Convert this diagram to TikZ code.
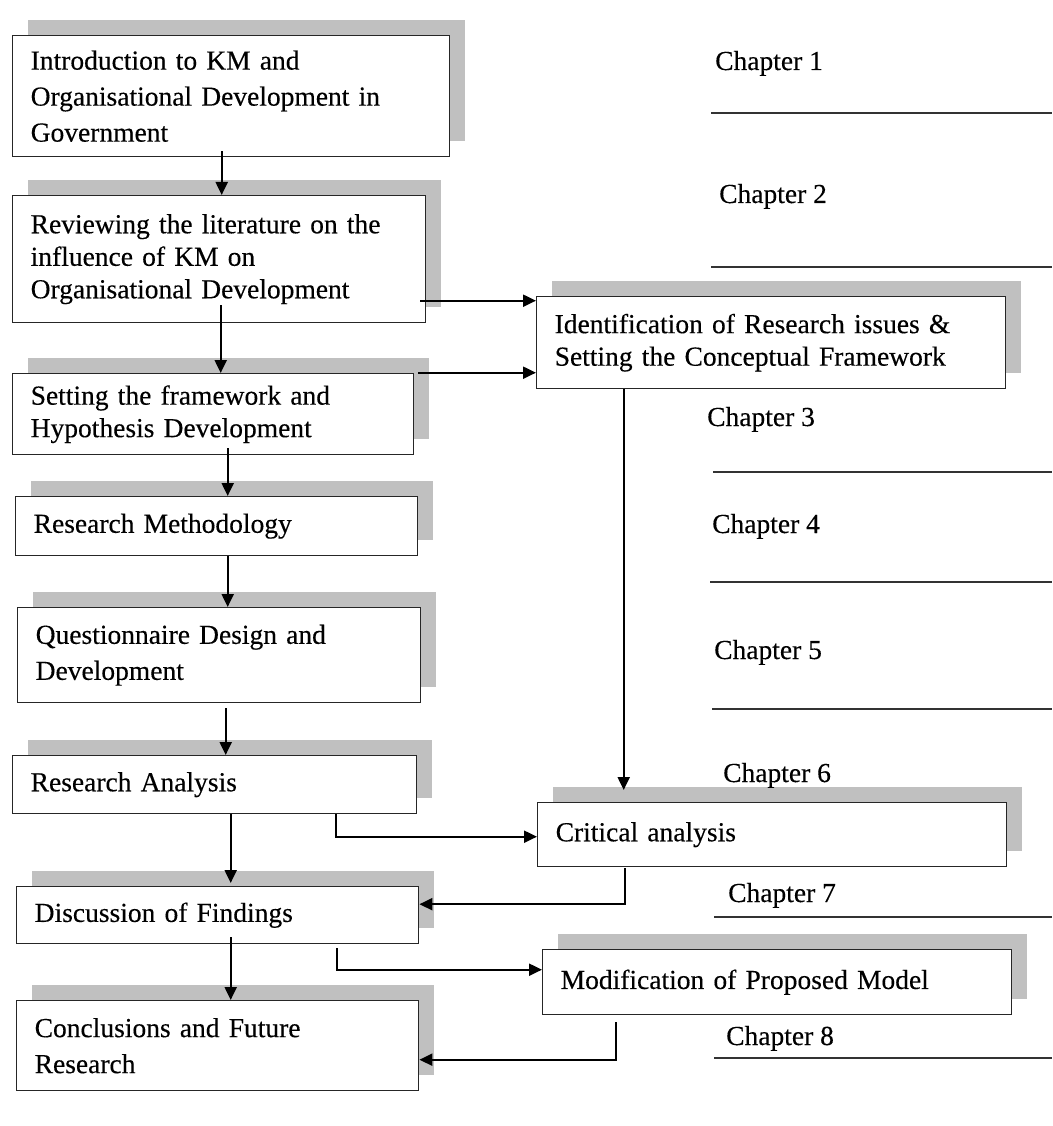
\documentclass[tikz,border=0pt]{standalone}
\usepackage{fontspec}
\setmainfont{Liberation Serif}[FakeBold=0.3]
\usetikzlibrary{arrows.meta,shadows}
\definecolor{shadowgray}{RGB}{192,192,192}
\newcommand{\stagefont}{\fontsize{27.5}{36}\selectfont}
\newcommand{\tightfont}{\fontsize{27.5}{32.5}\selectfont}
\begin{document}
\begin{tikzpicture}[x=1pt,y=-1pt,
  stage/.style={draw=black!85, line width=1.4pt, fill=white, align=left,
    anchor=north west, inner xsep=18pt, inner ysep=0pt, font=\stagefont,
    drop shadow={shadow xshift=15pt, shadow yshift=16pt, fill=shadowgray, opacity=1}},
  tight/.style={font=\tightfont},
  flow/.style={draw=black, line width=2.1pt, -{Triangle[length=13pt,width=12pt]}},
  chapter/.style={anchor=base west, inner sep=0pt, font=\stagefont},
  rule/.style={draw=black!80, line width=1.4pt}]
\useasboundingbox (0,0) rectangle (1052,1126);

% main chain of stages
\node[stage, minimum width=437pt, minimum height=121pt, text width=401pt] (b1) at (12,35)
  {Introduction to KM and\\Organisational Development in\\Government};
\node[stage, tight, minimum width=413pt, minimum height=127pt, text width=377pt] (b2) at (12,195)
  {Reviewing the literature on the\\influence of KM on\\Organisational Development};
\node[stage, tight, minimum width=401pt, minimum height=81pt, text width=365pt] (b3) at (12,373)
  {Setting the framework and\\Hypothesis Development};
\node[stage, minimum width=402pt, minimum height=59pt, text width=366pt] (b4) at (15,496)
  {Research Methodology};
\node[stage, minimum width=403pt, minimum height=95pt, text width=367pt] (b5) at (17,607)
  {Questionnaire Design and\\Development};
\node[stage, minimum width=404pt, minimum height=58pt, text width=368pt] (b6) at (12,755)
  {Research Analysis};
\node[stage, minimum width=402pt, minimum height=57pt, text width=366pt] (b7) at (16,886)
  {Discussion of Findings};
\node[stage, minimum width=402pt, minimum height=90pt, text width=366pt] (b8) at (16,1000)
  {Conclusions and Future\\Research};

% side stages
\node[stage, tight, minimum width=469pt, minimum height=92pt, text width=433pt] (bA) at (536,296)
  {Identification of Research issues \&\\Setting the Conceptual Framework};
\node[stage, minimum width=469pt, minimum height=64pt, text width=433pt] (bB) at (537,802)
  {Critical analysis};
\node[stage, minimum width=469pt, minimum height=65pt, text width=433pt] (bC) at (542,949)
  {Modification of Proposed Model};

% chapter labels and rules
\node[chapter] (c1) at (715,70) {Chapter 1};
\node[chapter] (c2) at (719,203) {Chapter 2};
\node[chapter] (c3) at (707,426) {Chapter 3};
\node[chapter] (c4) at (712,533) {Chapter 4};
\node[chapter] (c5) at (714,659) {Chapter 5};
\node[chapter] (c6) at (723,782) {Chapter 6};
\node[chapter] (c7) at (728,902) {Chapter 7};
\node[chapter] (c8) at (726,1045) {Chapter 8};
\draw[rule] (711,113) -- (1052,113);
\draw[rule] (711,267) -- (1052,267);
\draw[rule] (713,472) -- (1052,472);
\draw[rule] (710,582) -- (1052,582);
\draw[rule] (712,709) -- (1052,709);
\draw[rule] (714,917) -- (1052,917);
\draw[rule] (714,1058) -- (1052,1058);

% vertical flow down the left column
\draw[flow] ([xshift=-9.5pt,yshift=6pt]b1.south) -- ([xshift=2.5pt]b2.north);
\draw[flow] ([xshift=1.5pt,yshift=18pt]b2.south) -- ([xshift=7.5pt]b3.north);
\draw[flow] ([xshift=14.5pt,yshift=7pt]b3.south) -- ([xshift=11pt]b4.north);
\draw[flow] ([xshift=11pt]b4.south) -- ([xshift=8.5pt]b5.north);
\draw[flow] ([xshift=6.5pt,yshift=-5pt]b5.south) -- ([xshift=11pt]b6.north);
\draw[flow] ([xshift=16pt]b6.south) -- ([xshift=13pt,yshift=3pt]b7.north);
\draw[flow] ([xshift=13pt,yshift=7pt]b7.south) -- ([xshift=13pt]b8.north);

% links to and from the side column
\draw[flow] ([xshift=-6pt,yshift=-41.5pt]b2.east) -- ([yshift=42pt]bA.west);
\draw[flow] ([xshift=4pt,yshift=41.5pt]b3.east) -- ([yshift=-30pt]bA.west);
\draw[flow] ([xshift=-147.5pt]bA.south) -- ([xshift=-148.5pt,yshift=12pt]bB.north);
\draw[flow] ([xshift=121pt]b6.south) |- ([yshift=-2pt]bB.west);
\draw[flow] ([xshift=-147.5pt,yshift=-1pt]bB.south) |- ([yshift=11pt]b7.east);
\draw[flow] ([xshift=119pt,yshift=-4pt]b7.south) |- ([yshift=12.5pt]bC.west);
\draw[flow] ([xshift=-161.5pt,yshift=-7pt]bC.south) |- ([yshift=-14pt]b8.east);
\end{tikzpicture}
\end{document}
